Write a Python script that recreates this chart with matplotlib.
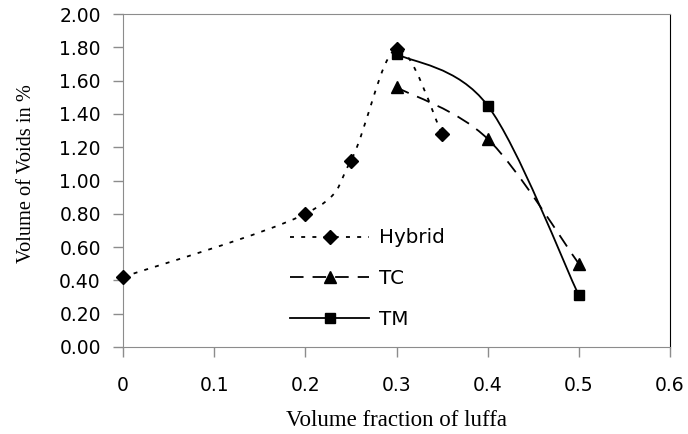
import numpy as np
import matplotlib
matplotlib.use('Agg')
import matplotlib.pyplot as plt
from matplotlib.path import Path
from matplotlib.patches import PathPatch
from matplotlib.lines import Line2D

# data
hybrid_x = [0, 0.2, 0.25, 0.3, 0.35]
hybrid_y = [0.42, 0.80, 1.12, 1.79, 1.28]
tc_x = [0.3, 0.4, 0.5]
tc_y = [1.56, 1.25, 0.50]
tm_x = [0.3, 0.4, 0.5]
tm_y = [1.76, 1.45, 0.31]

xticks = [0, 0.1, 0.2, 0.3, 0.4, 0.5, 0.6]
xticklabels = ['0', '0.1', '0.2', '0.3', '0.4', '0.5', '0.6']
yticks = np.arange(0, 2.01, 0.2)


def smooth_path(xs, ys):
    # excel style smoothed line: cubic bezier through the points
    p = np.column_stack([xs, ys]).astype(float)
    n = len(p)
    verts = [p[0]]
    codes = [Path.MOVETO]
    for i in range(n - 1):
        p0 = p[i - 1] if i > 0 else p[i]
        p3 = p[i + 2] if i + 2 < n else p[i + 1]
        c1 = p[i] + (p[i + 1] - p0) / 6.0
        c2 = p[i + 1] - (p3 - p[i]) / 6.0
        verts += [c1, c2, p[i + 1]]
        codes += [Path.CURVE4] * 3
    return Path(verts, codes)


fig = plt.figure(figsize=(6.88, 4.34), dpi=100)
ax = fig.add_axes([123/688., 1 - 347/434., 547/688., 333/434.])

styles = [
    (hybrid_x, hybrid_y, 'D', (0, (2.2, 4.0)), 'Hybrid', 7),
    (tc_x, tc_y, '^', (0, (7.5, 5.0)), 'TC', 8.5),
    (tm_x, tm_y, 's', '-', 'TM', 7.5),
]
handles = []
for xs, ys, mk, ls, lab, ms in styles:
    patch = PathPatch(smooth_path(xs, ys), facecolor='none', edgecolor='black',
                      lw=1.3, linestyle=ls, zorder=2)
    ax.add_patch(patch)
    ax.plot(xs, ys, linestyle='none', marker=mk, color='black', ms=ms, zorder=3,
            clip_on=False)
    handles.append(Line2D([], [], color='black', lw=1.3, linestyle=ls,
                          marker=mk, ms=ms))

ax.set_xlim(0, 0.6)
ax.set_ylim(0, 2.0)
ax.set_xticks(xticks)
ax.set_xticklabels(xticklabels)
ax.set_yticks(yticks)
ax.set_yticklabels(['%.2f' % v for v in yticks])
ax.tick_params(axis='both', direction='out', length=7, width=1, color='#8c8c8c',
               labelsize=13.5)
ax.tick_params(axis='y', pad=9)
ax.tick_params(axis='x', pad=14)
for s in ['left', 'bottom', 'top']:
    ax.spines[s].set_color('#8c8c8c')
ax.spines['right'].set_color('black')

ax.set_xlabel('Volume fraction of luffa', family='Liberation Serif', fontsize=16.5,
              labelpad=11)
ax.set_ylabel('Volume of Voids in %', family='Liberation Serif', fontsize=14.7)
ax.yaxis.set_label_coords(-0.159, 0.52)

ax.legend(handles, ['Hybrid', 'TC', 'TM'], loc='upper left',
          bbox_to_anchor=(0.305, 0.356), frameon=False, numpoints=1,
          handlelength=4.0, handletextpad=0.5, labelspacing=1.1, fontsize=14.3,
          borderpad=0, borderaxespad=0)

fig.savefig('out.png', dpi=100)
